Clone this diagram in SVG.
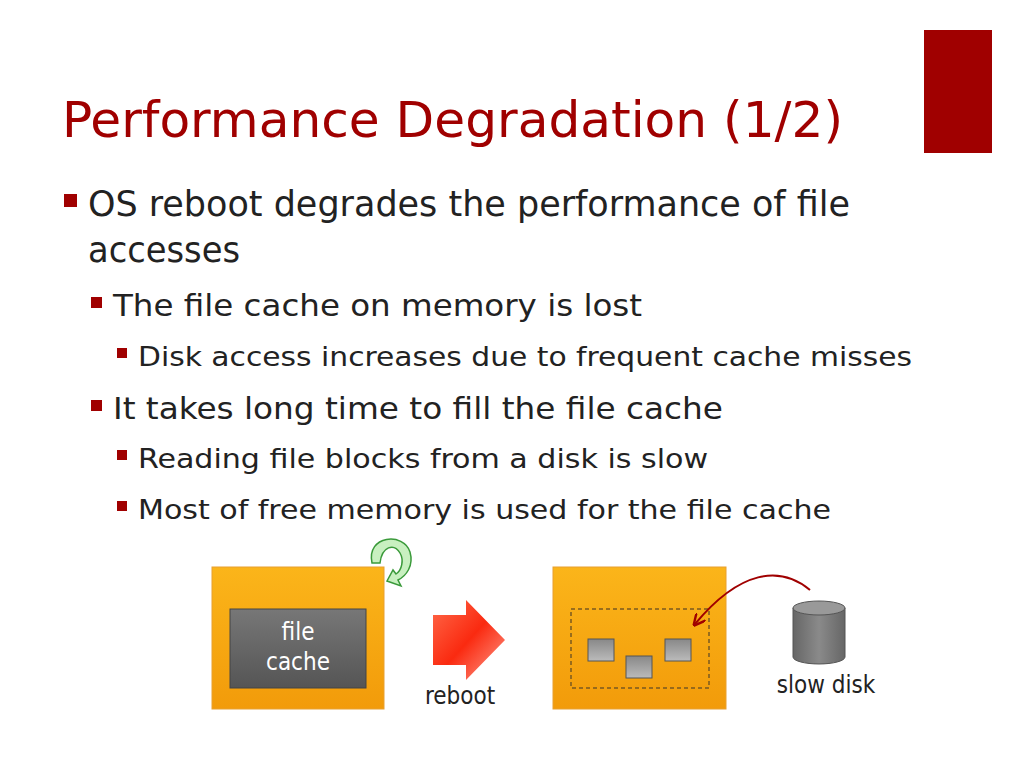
<svg xmlns="http://www.w3.org/2000/svg" width="1024" height="768" viewBox="0 0 1024 768">
<defs>
<linearGradient id="og" x1="0" y1="0" x2="0" y2="1"><stop offset="0" stop-color="#fbb51a"/><stop offset="1" stop-color="#f29b0a"/></linearGradient>
<linearGradient id="rg" x1="0" y1="0" x2="1" y2="1"><stop offset="0" stop-color="#ff6a4a"/><stop offset="0.5" stop-color="#fa2a10"/><stop offset="1" stop-color="#ffa090"/></linearGradient>
<linearGradient id="gg" x1="0" y1="0" x2="0" y2="1"><stop offset="0" stop-color="#777"/><stop offset="1" stop-color="#555"/></linearGradient>
<linearGradient id="sg" x1="0" y1="0" x2="0" y2="1"><stop offset="0" stop-color="#888"/><stop offset="1" stop-color="#bbb"/></linearGradient>
<linearGradient id="cg" x1="0" y1="0" x2="1" y2="0"><stop offset="0" stop-color="#666"/><stop offset="0.5" stop-color="#8a8a8a"/><stop offset="1" stop-color="#666"/></linearGradient>
<marker id="ah" viewBox="0 0 10 10" refX="8" refY="5" markerWidth="6" markerHeight="6" orient="auto"><path d="M0,0 L10,5 L0,10" fill="none" stroke="#a00000" stroke-width="2"/></marker>
</defs>
<style>
.t{font-family:"DejaVu Sans Condensed","DejaVu Sans",sans-serif;fill:#222}
.b{fill:#a00000}
</style>
<rect x="924" y="30" width="68" height="123" fill="#a00000"/>
<text x="62" y="137" class="t" font-size="50" fill="#a00000" style="fill:#a00000" textLength="781" lengthAdjust="spacingAndGlyphs">Performance Degradation (1/2)</text>
<rect class="b" x="64" y="194" width="13" height="13"/>
<text class="t" x="88" y="216" font-size="35" textLength="762" lengthAdjust="spacingAndGlyphs">OS reboot degrades the performance of file</text>
<text class="t" x="88" y="262" font-size="35" textLength="152" lengthAdjust="spacingAndGlyphs">accesses</text>
<rect class="b" x="91" y="297" width="11" height="11"/>
<text class="t" x="113" y="316" font-size="31" textLength="529" lengthAdjust="spacingAndGlyphs">The file cache on memory is lost</text>
<rect class="b" x="117" y="348" width="10" height="10"/>
<text class="t" x="138" y="366" font-size="27" textLength="774" lengthAdjust="spacingAndGlyphs">Disk access increases due to frequent cache misses</text>
<rect class="b" x="91" y="400" width="11" height="11"/>
<text class="t" x="113" y="419" font-size="31" textLength="610" lengthAdjust="spacingAndGlyphs">It takes long time to fill the file cache</text>
<rect class="b" x="117" y="450" width="10" height="10"/>
<text class="t" x="138" y="468" font-size="27" textLength="570" lengthAdjust="spacingAndGlyphs">Reading file blocks from a disk is slow</text>
<rect class="b" x="117" y="501" width="10" height="10"/>
<text class="t" x="138" y="519" font-size="27" textLength="693" lengthAdjust="spacingAndGlyphs">Most of free memory is used for the file cache</text>
<g id="before">
<rect x="212" y="567" width="172" height="142" fill="url(#og)" stroke="#e8a030"/>
<rect x="230" y="609" width="136" height="79" fill="url(#gg)" stroke="#444"/>
<text class="t" x="298" y="640" font-size="24" text-anchor="middle" style="fill:#fff">file</text>
<text class="t" x="298" y="670" font-size="24" text-anchor="middle" style="fill:#fff">cache</text>
</g>
<g id="loop">
<path d="M372,563 C366,535 404,532 410,552 C414,566 406,576 398,580 L401,586 L387,581 L393,570 L396,574 C402,570 404,560 400,553 C394,543 382,546 380,563 Z" fill="#c8f0c0" stroke="#3a9a3a" stroke-width="1.5"/>
</g>
<g id="rebootArrow">
<path d="M433,615 L466,615 L466,600 L505,640 L466,680 L466,665 L433,665 Z" fill="url(#rg)"/>
<text class="t" x="460" y="704" font-size="24" text-anchor="middle">reboot</text>
</g>
<g id="after">
<rect x="553" y="567" width="173" height="142" fill="url(#og)" stroke="#e8a030"/>
<rect x="571" y="609" width="138" height="79" fill="none" stroke="#7a5a20" stroke-width="1.5" stroke-dasharray="4,3"/>
<rect x="588" y="639" width="26" height="22" fill="url(#sg)" stroke="#555"/>
<rect x="626" y="656" width="26" height="22" fill="url(#sg)" stroke="#555"/>
<rect x="665" y="639" width="26" height="22" fill="url(#sg)" stroke="#555"/>
</g>
<g id="disk">
<path d="M793,608 L793,657 A26,7 0 0 0 845,657 L845,608 Z" fill="url(#cg)" stroke="#555"/>
<ellipse cx="819" cy="608" rx="26" ry="7" fill="#999" stroke="#555"/>
<text class="t" x="826" y="693" font-size="24" text-anchor="middle">slow disk</text>
</g>
<g id="connectors">
<path d="M810,590 C780,565 740,570 695,624" fill="none" stroke="#a00000" stroke-width="2" marker-end="url(#ah)"/>
</g>
</svg>
